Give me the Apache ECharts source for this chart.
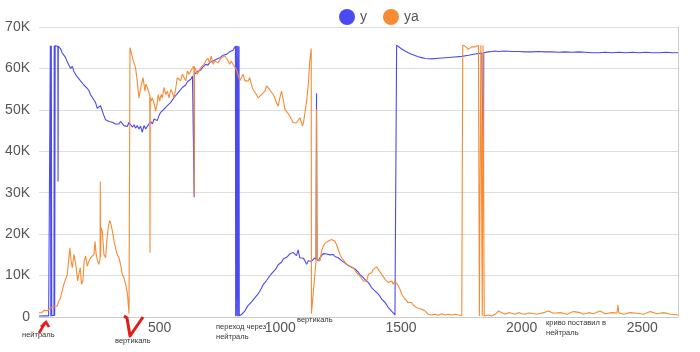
<!DOCTYPE html>
<html>
<head>
<meta charset="utf-8">
<script src="https://cdn.jsdelivr.net/npm/echarts@6/dist/echarts.min.js"></script>
<style>html,body{margin:0;padding:0;background:#fff}#c{width:700px;height:352px}</style>
</head>
<body>
<div id="c"></div>
<script>
const seriesNames = ['y', 'ya'];
const yTicks = [0, 10000, 20000, 30000, 40000, 50000, 60000, 70000];
const xTicks = [500, 1000, 1500, 2000, 2500];

// series "y" : [sample, value]
const yData = [
[0,250],[20,300],[40,280],[46,350],[47,65500],[49,200],[51,65500],[53,300],[62,400],[63,65500],[65,300],[67,65500],
[72,65500],[78,65300],[79,32700],[80,65300],[89,64800],[96,63800],[103,63200],[110,62600],[117,61600],[124,61200],
[131,60000],[138,60500],[145,59200],[151,58800],[158,58000],[165,57600],[172,57000],[179,56800],[186,56000],[193,55600],
[200,55200],[207,54600],[214,53600],[221,53000],[228,52800],[234,51800],[241,50400],[248,50200],[255,51000],[262,50600],
[269,48600],[276,47600],[283,48000],[290,47200],[297,47600],[304,47000],[311,47400],[317,46600],[324,47000],[331,46600],
[338,47200],[345,46800],[352,46200],[359,46600],[366,46000],[373,47000],[380,46400],[387,45800],[394,46400],[400,45600],
[407,46200],[414,45400],[421,46000],[428,44600],[435,46200],[442,45400],[449,46000],[456,46400],[463,47200],[470,46600],
[477,47800],[483,48000],[490,47400],[497,48600],[504,49400],[511,49000],[518,50200],[525,49800],[532,51000],[539,50600],
[546,51800],[553,52400],[559,52000],[566,53400],[573,53800],[580,54400],[587,54000],[594,55400],[601,55800],[608,56000],
[615,56800],[622,57000],[629,57400],[636,58200],[642,58400],[643,28900],[644,58600],[649,58200],[656,59200],[663,59000],
[670,59600],[677,60200],[684,60600],[691,61000],[700,60800],[707,61400],[714,61200],[721,61800],[728,62000],[735,62200],
[742,62600],[749,62600],[756,63000],[763,63200],[770,63400],[777,63400],[784,63800],[790,64000],[797,64200],[804,64400],
[810,64800],[814,65400],[815,200],[819,65500],[820,300],[824,65400],[825,100],[829,65300],[830,300],
[839,600],[846,1000],[853,1400],[860,2200],[867,2800],[873,3200],[880,3600],[887,3800],[894,4600],
[901,4800],[908,5600],[915,6200],[922,7000],[929,7800],[936,8200],[943,8800],[950,9200],[956,9900],[963,10400],[970,10700],
[977,11300],[984,11800],[991,12600],[998,13000],[1005,13200],[1012,14000],[1019,13600],[1026,14400],[1033,14800],
[1039,15200],[1046,14900],[1053,15600],[1060,15200],[1067,14800],[1074,16200],[1078,15000],[1081,14300],[1088,14600],
[1095,14200],[1102,13600],[1109,12700],[1116,13600],[1122,14000],[1129,13400],[1136,13000],[1143,14300],[1148,13800],
[1150,54000],[1152,14000],[1157,13500],[1164,14300],[1171,14800],[1178,15300],[1185,15000],[1192,15200],[1198,15000],
[1205,15000],[1212,14800],[1219,15100],[1226,14600],[1233,14700],[1240,14300],[1247,14200],[1254,13600],[1261,13400],
[1268,13000],[1275,12600],[1282,12400],[1288,12300],[1295,12000],[1302,12000],[1309,11600],[1316,11400],[1323,10800],
[1330,10300],[1337,10000],[1344,9500],[1351,9000],[1358,8600],[1365,8300],[1371,7800],[1378,7100],[1385,6700],[1392,6300],
[1399,5900],[1406,5500],[1413,5000],[1420,4300],[1427,3900],[1434,3500],[1440,3000],[1447,2300],[1454,1900],[1461,1400],
[1468,1000],[1475,500],[1481,200],[1482,65600],[1489,65200],[1503,64700],[1517,64200],[1530,63800],[1544,63400],
[1558,63100],[1572,62800],[1586,62600],[1600,62400],[1627,62300],[1669,62500],[1710,62700],[1752,62900],[1780,63200],
[1807,63500],[1835,63700],[1841,63800],[1842,32000],[1843,63800],[1849,63900],[1862,64000],[1876,64100],[1890,64200],
[1904,64100],[1932,64200],[1959,64100],[1987,64100],[2014,64000],[2042,64000],[2070,64100],[2098,64000],[2125,64000],
[2153,63900],[2181,64000],[2209,63900],[2237,64000],[2264,63900],[2292,63800],[2320,63800],[2348,63900],[2375,63800],
[2403,63900],[2431,63800],[2459,63900],[2487,63800],[2514,63900],[2542,63800],[2570,63800],[2598,63900],[2626,63800],
[2648,63800]
];

// series "ya" : [sample, value]
const yaData = [
[0,1000],[6,1400],[13,1100],[20,1600],[27,1300],[34,1500],[41,1800],[48,2200],[55,1800],[62,2600],[68,3000],[75,2600],
[82,3800],[89,4600],[96,6300],[103,7900],[110,9100],[117,10300],[124,14300],[128,16700],[133,13500],[138,11900],
[145,15100],[149,15500],[154,11900],[160,8700],[165,10300],[171,11900],[176,7900],[182,8700],[187,13500],[193,14700],
[200,12300],[207,13500],[214,14300],[221,13900],[228,15100],[232,18300],[237,15100],[243,13500],[248,12700],[253,14000],
[254,32700],[255,14500],[257,21600],[262,20800],[269,15100],[276,14300],[281,18300],[287,21600],[293,23300],[298,22400],
[304,20800],[311,18300],[317,16700],[324,15100],[331,14300],[338,12700],[345,10300],[352,9500],[359,7900],[366,5900],
[373,800],[377,65000],[384,63400],[389,62200],[395,61800],[400,60200],[407,57000],[414,52900],[421,52500],[425,56200],
[431,57800],[435,56200],[439,54500],[443,56200],[449,55400],[456,54100],[459,53500],[460,15500],[461,53000],[465,52100],
[470,52900],[474,53300],[478,51300],[483,49700],[489,51300],[494,53700],[500,52100],[506,53700],[511,52900],[518,55400],
[525,53700],[532,54500],[539,52900],[546,54900],[553,54100],[559,52900],[566,54900],[573,57800],[580,57400],[587,57000],
[594,58600],[601,57800],[608,57000],[615,59400],[622,58600],[629,59400],[636,59800],[642,60600],[643,29500],[644,60400],
[649,60300],[656,58600],[663,59400],[670,60200],[677,59800],[684,61000],[691,61800],[700,62400],[707,61400],[714,63000],
[721,61000],[728,61800],[735,62200],[742,61400],[749,61800],[756,62600],[763,62200],[770,63000],[777,62600],[784,61800],
[790,61000],[797,61800],[804,61000],[811,60600],[818,59800],[825,60200],[832,57000],[839,57800],[846,58600],[853,57000],
[860,56600],[867,57000],[873,57800],[880,56200],[887,54900],[894,54500],[901,53700],[908,52900],[915,52500],[922,53700],
[929,54100],[936,54500],[943,55800],[950,56200],[956,54900],[963,54500],[970,53700],[977,52900],[984,51700],[991,50900],
[998,52900],[1005,54500],[1012,52500],[1019,50100],[1026,49700],[1033,49100],[1039,48500],[1046,48100],[1053,46900],
[1060,46500],[1067,46900],[1074,47300],[1081,48100],[1088,46900],[1092,46100],[1097,47300],[1103,49700],[1109,52100],
[1116,56200],[1122,61800],[1128,64800],[1129,800],[1148,13500],[1150,50100],[1152,14000],[1157,14300],[1164,13500],
[1171,15900],[1178,17100],[1185,17700],[1192,17900],[1198,18300],[1205,18700],[1212,18700],[1219,18300],[1226,18300],
[1233,17500],[1240,16300],[1247,15100],[1254,14300],[1261,13900],[1275,12700],[1288,12300],[1302,11900],[1316,10700],
[1330,9900],[1344,8700],[1351,8500],[1358,8700],[1365,10300],[1371,10700],[1378,10700],[1385,11500],[1392,11900],
[1399,12100],[1406,11500],[1413,11100],[1420,10300],[1427,9900],[1434,9100],[1440,8700],[1447,8300],[1454,7900],
[1461,8700],[1468,7900],[1475,8700],[1482,9100],[1489,7500],[1496,6700],[1503,5500],[1510,5100],[1517,4300],[1523,3900],
[1530,3500],[1537,3100],[1544,3500],[1551,2900],[1558,3100],[1565,2250],[1572,2650],[1586,1850],[1600,1450],[1613,650],
[1627,500],[1641,650],[1655,400],[1669,800],[1683,500],[1696,650],[1710,500],[1724,650],[1738,500],[1752,400],[1755,400],
[1756,65600],[1766,65400],[1772,65000],[1779,64600],[1786,65000],[1793,65200],[1800,65400],[1807,65200],[1814,65400],
[1821,65600],[1824,65600],[1825,250],[1830,250],[1831,65600],[1836,65600],[1837,250],[1839,250],[1840,65600],[1844,65600],
[1845,250],[1848,250],[1862,500],[1876,250],[1890,650],[1904,1450],[1911,1600],[1918,1050],[1932,650],[1945,1050],
[1959,900],[1973,650],[1987,1050],[2001,800],[2014,650],[2028,950],[2042,900],[2063,650],[2091,1050],[2111,1450],
[2132,900],[2160,1050],[2188,650],[2215,1300],[2243,1050],[2257,650],[2278,1050],[2297,800],[2325,1450],[2346,800],
[2374,1050],[2395,950],[2399,2900],[2403,950],[2422,650],[2450,1050],[2478,900],[2506,650],[2533,1300],[2561,800],
[2589,1050],[2616,650],[2648,500]
];

const notes = [
  {text: 'нейтраль', left: 22, top: 331},
  {text: 'вертикаль', left: 115, top: 337},
  {text: 'переход через', left: 216, top: 323},
  {text: 'нейтраль', left: 216, top: 333},
  {text: 'вертикаль', left: 297, top: 316},
  {text: 'криво поставил в', left: 546, top: 319},
  {text: 'нейтраль', left: 546, top: 329}
];

const chart = echarts.init(document.getElementById('c'), null, {renderer: 'canvas'});
const FONT = '"Liberation Sans", Arial, sans-serif';
const graphic = notes.map(n => ({
  type: 'text', left: n.left, top: n.top, z: 100,
  style: {text: n.text, fill: '#333', font: '7.5px ' + FONT}
}));
graphic.push({
  type: 'polyline', z: 100,
  shape: {points: [[39, 333], [45, 323]]},
  style: {stroke: '#e81818', lineWidth: 2.5, fill: null}
});
graphic.push({
  type: 'polyline', z: 100,
  shape: {points: [[41, 327], [46, 322], [49, 327]]},
  style: {stroke: '#e81818', lineWidth: 2.5, fill: null}
});
graphic.push({
  type: 'polyline', z: 100,
  shape: {points: [[124, 316], [127, 318], [130, 336], [143, 317]]},
  style: {stroke: '#e81818', lineWidth: 3, fill: null, lineJoin: 'round'}
});

chart.setOption({
  animation: false,
  textStyle: {fontFamily: FONT},
  color: ['#4a4af4', '#f68b33'],
  legend: {
    data: seriesNames, top: 4, left: 334, icon: 'circle',
    itemWidth: 16, itemHeight: 16, itemGap: 16,
    textStyle: {color: '#555', fontSize: 14, fontFamily: FONT}
  },
  grid: {left: 39, right: 22, top: 27, bottom: 35},
  xAxis: {
    type: 'value', min: 0, max: 2648, interval: 500,
    splitLine: {show: false},
    axisTick: {show: false},
    axisLine: {lineStyle: {color: '#ccc'}},
    axisLabel: {
      color: '#555', fontSize: 14, margin: 4, fontFamily: FONT,
      showMinLabel: false, showMaxLabel: false,
      formatter: v => xTicks.indexOf(v) >= 0 ? String(v) : ''
    }
  },
  yAxis: [{
    type: 'value', min: yTicks[0], max: yTicks[yTicks.length - 1], interval: 10000,
    axisLine: {show: false}, axisTick: {show: false},
    splitLine: {lineStyle: {color: '#ddd'}},
    axisLabel: {color: '#555', fontSize: 14, margin: 9, fontFamily: FONT,
      formatter: v => v === 0 ? '0' : (v / 1000) + 'K'}
  }, {
    type: 'value', position: 'right', min: 0, max: 70000, interval: 10000,
    axisLine: {show: true, lineStyle: {color: '#ccc'}},
    axisTick: {show: false}, axisLabel: {show: false}, splitLine: {show: false}
  }],
  graphic: graphic,
  series: [
    {name: seriesNames[0], type: 'line', data: yData, showSymbol: false, symbol: 'none',
     lineStyle: {width: 1.1}, z: 2},
    {name: seriesNames[1], type: 'line', data: yaData, showSymbol: false, symbol: 'none',
     lineStyle: {width: 1.1}, z: 3}
  ]
});
</script>
</body>
</html>
